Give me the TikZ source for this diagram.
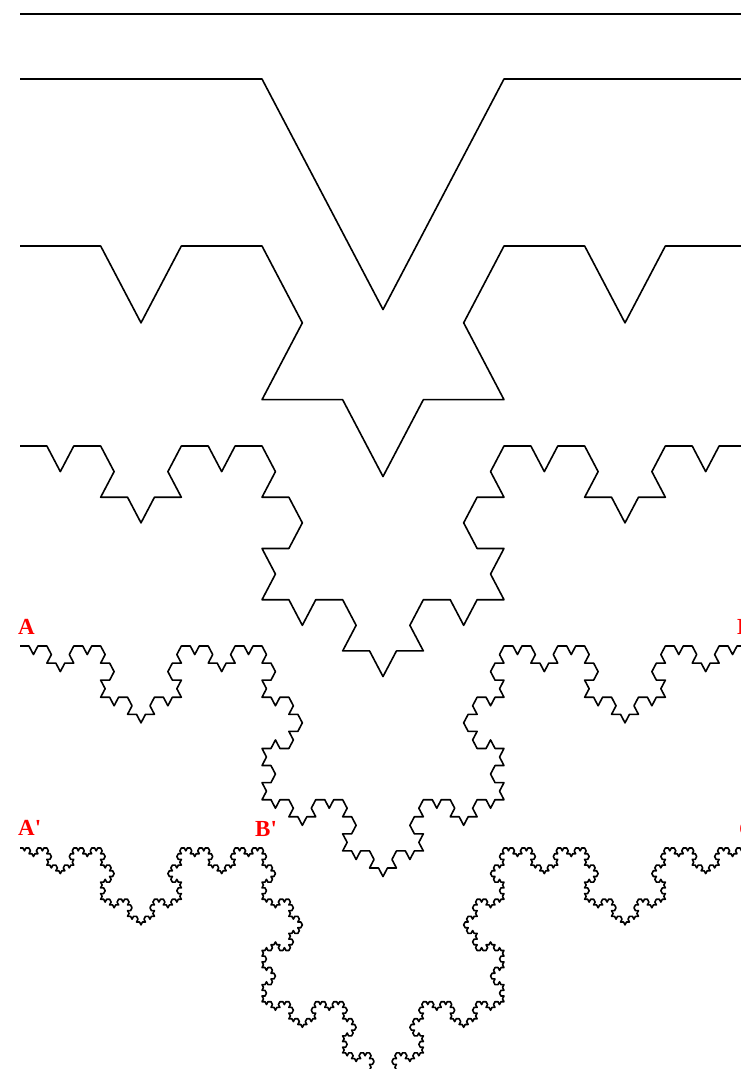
\documentclass[tikz,border=0pt]{standalone}
\usepackage{fontspec}
\setmainfont{Liberation Serif}
\usepackage{tikz}

\def\kochyfac{1.1}
\newcommand\kochsegment[2]{% #1 order, #2 direction
  \ifnum#1=0
    \pgfmathsetmacro\kochdx{\kochstep*cos(#2)}%
    \pgfmathsetmacro\kochdy{\kochyfac*\kochstep*sin(#2)}%
    \xdef\kochpath{\kochpath -- ++(\kochdx,\kochdy)}%
  \else
    \begingroup
    \edef\kochnext{%
      \noexpand\kochsegment{\the\numexpr#1-1\relax}{\the\numexpr#2\relax}%
      \noexpand\kochsegment{\the\numexpr#1-1\relax}{\the\numexpr#2+60\relax}%
      \noexpand\kochsegment{\the\numexpr#1-1\relax}{\the\numexpr#2-60\relax}%
      \noexpand\kochsegment{\the\numexpr#1-1\relax}{\the\numexpr#2\relax}}%
    \kochnext
    \endgroup
  \fi}
\newcommand\kochcurve[1]{% #1 order
  \pgfmathsetmacro\kochstep{726/3^#1}%
  \gdef\kochpath{}%
  \kochsegment{#1}{0}}

\begin{document}
\begin{tikzpicture}[
 x={(1pt,0)},y={(0,-1pt)},
 kochline/.style={draw=black,line width=1.6pt,line join=round},
 tag/.style={text=red,inner sep=0pt,anchor=base west,
   font=\fontsize{23}{23}\selectfont\bfseries}]
 \useasboundingbox (0,0) rectangle (740,1069);
 % one curve per order, each three times finer
 \foreach \n/\y in {0/14,1/79,2/246,3/446,4/646,5/848}{
   \kochcurve{\n}
   \draw[kochline] (20,\y) \kochpath;
 }
 \node[tag] (labA) at (18,634) {A};
 \node[tag] (labB) at (737,634) {B};
 \node[tag] (labAp) at (18,835) {A\textquotesingle};
 \node[tag] (labBp) at (255,836) {B\textquotesingle};
 \node[tag] (labCp) at (739,836) {C\textquotesingle};
\end{tikzpicture}
\end{document}
